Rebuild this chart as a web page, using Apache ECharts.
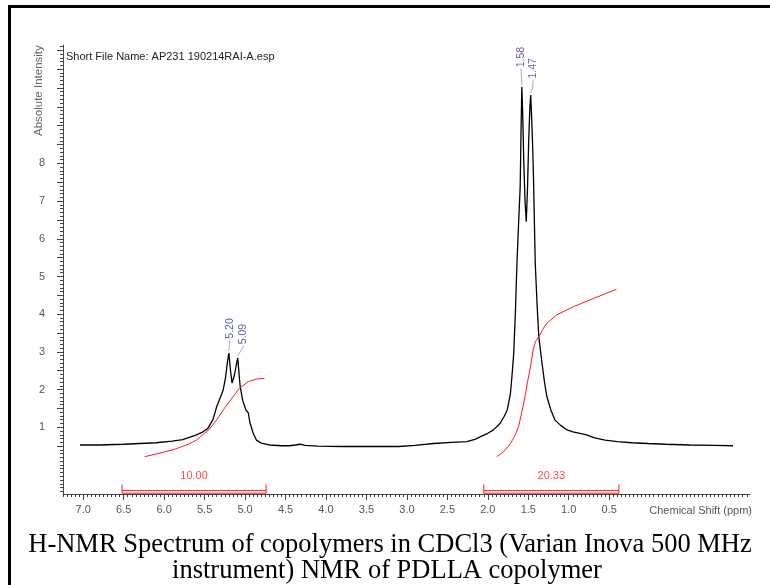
<!DOCTYPE html>
<html>
<head>
<meta charset="utf-8">
<script src="https://cdn.jsdelivr.net/npm/echarts@6/dist/echarts.min.js"></script>
<style>html,body{margin:0;padding:0;background:#fff;}#c{width:770px;height:585px;}</style>
</head>
<body>
<div id="c"></div>
<script>
// ---- data ----
var spectrum = [
  [7.04,0.53],[6.8,0.53],[6.5,0.55],[6.3,0.57],[6.1,0.59],[5.9,0.63],[5.77,0.67],[5.68,0.74],
  [5.6,0.8],[5.52,0.88],[5.46,0.97],[5.40,1.19],[5.37,1.4],[5.35,1.55],[5.31,1.77],[5.27,1.99],
  [5.24,2.34],[5.22,2.7],[5.20,2.97],[5.18,2.5],[5.16,2.17],[5.13,2.4],[5.10,2.75],[5.09,2.84],
  [5.07,2.3],[5.06,2.08],[5.03,1.72],[4.99,1.46],[4.96,1.38],[4.94,1.12],[4.90,0.84],[4.86,0.66],
  [4.80,0.58],[4.70,0.53],[4.55,0.51],[4.45,0.51],[4.38,0.53],[4.32,0.55],[4.26,0.52],[4.1,0.5],
  [3.8,0.49],[3.5,0.49],[3.1,0.49],[2.9,0.52],[2.67,0.57],[2.45,0.6],[2.26,0.62],[2.16,0.68],
  [2.09,0.75],[2.0,0.84],[1.93,0.93],[1.85,1.1],[1.80,1.28],[1.76,1.46],[1.72,1.9],[1.70,2.4],
  [1.68,2.96],[1.66,4.0],[1.64,5.35],[1.62,6.4],[1.60,7.38],[1.59,8.8],[1.58,10.03],[1.57,9.4],
  [1.555,8.0],[1.54,7.0],[1.525,6.45],[1.51,7.3],[1.495,8.6],[1.48,9.5],[1.47,9.81],[1.46,9.3],
  [1.445,8.4],[1.435,7.56],[1.414,5.35],[1.39,4.2],[1.37,3.4],[1.33,2.7],[1.30,2.2],[1.27,1.81],
  [1.22,1.45],[1.17,1.19],[1.10,1.05],[1.02,0.93],[0.95,0.88],[0.86,0.84],[0.78,0.80],[0.68,0.72],
  [0.55,0.66],[0.40,0.62],[0.22,0.59],[0.02,0.57],[-0.2,0.55],[-0.5,0.53],[-0.8,0.52],[-1.03,0.51]
];
var integral1 = [[6.24,0.22],[6.1,0.29],[5.89,0.40],[5.7,0.55],[5.6,0.66],[5.44,0.95],[5.35,1.2],
  [5.27,1.46],[5.15,1.81],[5.07,2.03],[4.96,2.21],[4.86,2.28],[4.76,2.30]];
var integral2 = [[1.89,0.22],[1.80,0.36],[1.72,0.57],[1.66,0.8],[1.62,1.02],[1.58,1.4],[1.54,1.81],
  [1.51,2.2],[1.48,2.52],[1.44,3.05],[1.41,3.28],[1.37,3.40],[1.32,3.6],[1.27,3.76],[1.15,3.98],
  [0.94,4.20],[0.69,4.42],[0.41,4.66]];
var integralRanges = [[6.52,4.74],[2.05,0.38]];
var integralValues = ['10.00','20.33'];
var integralBarY = {outer:-0.75, inner:-0.68, top:-0.52, label:-0.30};
var peakNames = ['5.20','5.09','1.58','1.47'];
var peakLabelPos = [[5.19,3.35],[5.02,3.20],[1.59,10.55],[1.44,10.25]];
var peakLeaders = [
  [[5.20,3.02],[5.19,3.32]],
  [[5.09,2.90],[5.03,3.10],[5.02,3.17]],
  [[1.58,10.08],[1.59,10.52]],
  [[1.47,9.87],[1.445,10.0],[1.44,10.22]]
];
var xTickLabels = [7.0,6.5,6.0,5.5,5.0,4.5,4.0,3.5,3.0,2.5,2.0,1.5,1.0,0.5];
var yTickLabels = [1,2,3,4,5,6,7,8];

var X_MIN = -1.24, X_MAX = 7.25, Y_MIN = -0.77, Y_MAX = 11.14;
function range(a, b, step) { var r = []; for (var v = a; v <= b + 1e-9; v += step) r.push(Math.round(v*1000)/1000); return r; }
var xMinor = range(-1.2, 7.25, 0.05);
var yMajor = range(0.5, 11.0, 0.5);
var yMinor = range(-0.7, 11.1, 0.1);

var axisColor = '#444';
var labelColor = '#555';
var red = '#ff1a1a';

var series = [];
series.push({type:'line', data:spectrum, showSymbol:false, symbol:'none', lineStyle:{color:'#000', width:1.3}, silent:true, z:3});
series.push({type:'line', data:integral1, showSymbol:false, symbol:'none', lineStyle:{color:red, width:1}, silent:true, z:4});
series.push({type:'line', data:integral2, showSymbol:false, symbol:'none', lineStyle:{color:red, width:1}, silent:true, z:4});
integralRanges.forEach(function(r, i){
  series.push({type:'line', symbol:'none', silent:true, lineStyle:{color:red, width:1},
    data:[[r[0],integralBarY.top],[r[0],integralBarY.outer],[r[1],integralBarY.outer],[r[1],integralBarY.top]]});
  series.push({type:'line', symbol:'none', silent:true, lineStyle:{color:red, width:1},
    data:[[r[0],integralBarY.inner],[r[1],integralBarY.inner]]});
  series.push({type:'scatter', symbolSize:0, silent:true,
    data:[{value:[(r[0]+r[1])/2, integralBarY.label], name:integralValues[i]}],
    label:{show:true, position:'inside', formatter:'{b}', color:red, fontSize:11, fontFamily:'Liberation Sans'}});
});
peakLeaders.forEach(function(l){
  series.push({type:'line', symbol:'none', silent:true, data:l, lineStyle:{color:'#a3a9d6', width:1}, z:2});
});
series.push({type:'scatter', symbolSize:0, silent:true,
  data: peakNames.map(function(n, i){ return {value:peakLabelPos[i], name:n}; }),
  label:{show:true, position:'inside', rotate:90, align:'left', verticalAlign:'middle', formatter:'{b}',
    color:'#33349a', fontSize:10.5, fontFamily:'Liberation Sans'}});

var chart = echarts.init(document.getElementById('c'));
chart.setOption({
  animation:false,
  backgroundColor:'#fff',
  grid:{left:63, right:20, top:45, bottom:91, containLabel:false},
  xAxis:[
    {type:'value', min:X_MIN, max:X_MAX, inverse:true, position:'bottom',
     axisLine:{show:true, onZero:false, lineStyle:{color:axisColor, width:1}},
     axisTick:{show:true, customValues:xTickLabels, length:6, lineStyle:{color:axisColor}},
     axisLabel:{show:true, customValues:xTickLabels, formatter:function(v){return v.toFixed(1);}, margin:10,
       fontSize:11, color:labelColor, fontFamily:'Liberation Sans'},
     splitLine:{show:false}},
    {type:'value', min:X_MIN, max:X_MAX, inverse:true, position:'bottom',
     axisLine:{show:false, onZero:false}, axisLabel:{show:false}, splitLine:{show:false},
     axisTick:{show:true, customValues:xMinor, length:3, lineStyle:{color:axisColor}}}
  ],
  yAxis:[
    {type:'value', min:Y_MIN, max:Y_MAX, position:'left',
     axisLine:{show:true, onZero:false, lineStyle:{color:axisColor, width:1}},
     axisTick:{show:true, customValues:yMajor, length:6, lineStyle:{color:axisColor}},
     axisLabel:{show:true, customValues:yTickLabels, margin:18, fontSize:11, color:labelColor, fontFamily:'Liberation Sans'},
     splitLine:{show:false}},
    {type:'value', min:Y_MIN, max:Y_MAX, position:'left',
     axisLine:{show:false, onZero:false}, axisLabel:{show:false}, splitLine:{show:false},
     axisTick:{show:true, customValues:yMinor, length:3, lineStyle:{color:axisColor}}}
  ],
  graphic:[
    {type:'rect', shape:{x:8, y:5, width:3, height:580}, style:{fill:'#000'}},
    {type:'rect', shape:{x:8, y:5, width:762, height:3}, style:{fill:'#000'}},
    {type:'text', x:66, y:57, style:{text:'Short File Name: AP231 190214RAI-A.esp', fontSize:11, fontFamily:'Liberation Sans', fill:'#222', textVerticalAlign:'middle'}},
    {type:'text', x:39, y:136, rotation:Math.PI/2, style:{text:'Absolute Intensity', fontSize:11.5, fontFamily:'Liberation Sans', fill:'#666', textAlign:'left', textVerticalAlign:'middle'}},
    {type:'text', x:752, y:511, style:{text:'Chemical Shift (ppm)', fontSize:11, fontFamily:'Liberation Sans', fill:labelColor, textAlign:'right', textVerticalAlign:'middle'}},
    {type:'text', x:390, y:545, style:{text:'H-NMR Spectrum of copolymers in CDCl3 (Varian Inova 500 MHz', fontSize:26.5, fontFamily:'Liberation Serif', fill:'#000', textAlign:'center', textVerticalAlign:'middle'}},
    {type:'text', x:387, y:571, style:{text:'instrument) NMR of PDLLA copolymer', fontSize:26.5, fontFamily:'Liberation Serif', fill:'#000', textAlign:'center', textVerticalAlign:'middle'}}
  ],
  series: series.map(function(s){ s.xAxisIndex = 0; s.yAxisIndex = 0; s.animation = false; return s; })
});
</script>
</body>
</html>
